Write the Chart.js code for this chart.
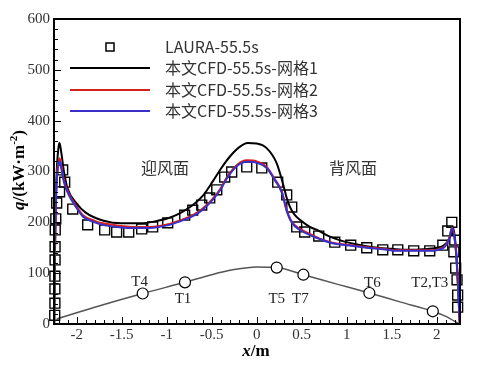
<!DOCTYPE html>
<html>
<head>
<meta charset="utf-8">
<script src="https://cdn.jsdelivr.net/npm/chart.js@4"></script>
<style>
  html, body { margin: 0; padding: 0; background: #fff; }
  #wrap { width: 486px; height: 367px; }
</style>
</head>
<body>
<div id="wrap"><canvas id="myChart" width="486" height="367"></canvas></div>
<script>
// LAURA reference points
const lauraX = [-2.244, -2.242, -2.242, -2.242, -2.240, -2.240, -2.238, -2.232, -2.222, -2.19, -2.156, -2.133, -2.044, -1.878, -1.689, -1.556, -1.422, -1.278, -1.156, -0.989, -0.8, -0.711, -0.611, -0.522, -0.444, -0.356, -0.278, -0.111, 0.056, 0.233, 0.333, 0.389, 0.444, 0.533, 0.689, 0.867, 1.044, 1.222, 1.4, 1.567, 1.744, 1.922, 2.067, 2.122, 2.167, 2.2, 2.19, 2.21, 2.225, 2.232, 2.232]
const lauraY = [17, 41, 69, 94, 126, 152, 185, 207, 238, 260, 303, 279, 226, 195, 185, 181, 181, 187, 191, 199, 214, 224, 234, 248, 264, 289, 299, 309, 307, 279, 254, 230, 191, 181, 173, 161, 155, 150, 146, 146, 144, 144, 155, 183, 200, 165, 142, 110, 87, 57, 33]

// 本文CFD 网格1
const cfd1X = [-2.25, -2.24, -2.225, -2.2, -2.19, -2.17, -2.14, -2.1, -2.0, -1.9, -1.7, -1.5, -1.3, -1.1, -0.97, -0.85, -0.71, -0.6, -0.49, -0.4, -0.3, -0.2, -0.1, 0, 0.11, 0.22, 0.29, 0.33, 0.37, 0.42, 0.48, 0.59, 0.67, 0.8, 0.92, 1.1, 1.29, 1.5, 1.67, 1.85, 2.0, 2.08, 2.13, 2.16, 2.18, 2.2, 2.22, 2.24, 2.255]
const cfd1Y = [0, 160, 285, 350, 356, 336, 298, 266, 237, 219, 203, 198, 198, 203, 209, 218, 234, 252, 280, 305, 329, 347, 356, 355, 346, 317, 277, 250, 230, 215, 205, 191, 185, 173, 165, 157, 151, 148, 146, 147, 150, 155, 165, 178, 190, 172, 130, 60, 0]

// 本文CFD 网格2
const cfd2X = [-2.25, -2.24, -2.225, -2.2, -2.19, -2.17, -2.14, -2.08, -2.0, -1.93, -1.8, -1.71, -1.5, -1.38, -1.19, -0.97, -0.85, -0.71, -0.6, -0.49, -0.4, -0.33, -0.22, -0.11, 0, 0.11, 0.2, 0.28, 0.33, 0.39, 0.48, 0.59, 0.7, 0.84, 1.0, 1.22, 1.4, 1.59, 1.8, 1.96, 2.05, 2.09, 2.14, 2.17, 2.2, 2.22, 2.24, 2.255]
const cfd2Y = [0, 160, 275, 322, 326, 310, 282, 254, 231, 214, 203, 198, 193, 191, 191, 197, 204, 214, 227, 246, 267, 289, 313, 322, 320, 309, 285, 260, 226, 201, 187, 177, 168, 160, 156, 151, 148, 145, 145, 145, 149, 153, 170, 190, 166, 127, 60, 4]

// 本文CFD 网格3
const cfd3X = [-2.25, -2.24, -2.225, -2.2, -2.19, -2.17, -2.14, -2.08, -2.0, -1.93, -1.8, -1.71, -1.5, -1.38, -1.19, -0.97, -0.85, -0.71, -0.6, -0.49, -0.4, -0.33, -0.22, -0.11, 0, 0.11, 0.2, 0.28, 0.33, 0.39, 0.48, 0.59, 0.7, 0.84, 1.0, 1.22, 1.4, 1.59, 1.8, 1.96, 2.05, 2.09, 2.14, 2.17, 2.2, 2.22, 2.24, 2.255]
const cfd3Y = [0, 155, 270, 316, 320, 305, 278, 251, 228, 211, 200, 195, 190, 189, 189, 195, 202, 212, 225, 244, 265, 287, 311, 319, 317, 307, 283, 258, 224, 199, 185, 175, 167, 159, 155, 150, 147, 144, 144, 144, 148, 152, 169, 189, 165, 126, 60, 5]

// body profile and thermocouple points
const profileX = [-2.222, -1.8, -1.267, -0.797, -0.5, -0.25, 0, 0.222, 0.518, 0.9, 1.251, 1.6, 1.956, 2.1, 2.25]
const profileY = [10, 33, 60, 82, 97, 107, 112, 111, 97, 78, 61, 43, 25, 15, 0]
const tNames = ['T4', 'T1', 'T5', 'T7', 'T6', 'T2,T3']
const tX = [-1.267, -0.797, 0.222, 0.518, 1.251, 1.956]
const tY = [60, 82, 111, 97, 61, 25]

const annoText = ['迎风面', '背风面']
const annoX = [-1.02, 1.07]
const annoY = [307, 307]

const legendNames = ['LAURA-55.5s', '本文CFD-55.5s-网格1', '本文CFD-55.5s-网格2', '本文CFD-55.5s-网格3']

const xTicks = [-2, -1.5, -1, -0.5, 0, 0.5, 1, 1.5, 2]
const yTicks = [0, 100, 200, 300, 400, 500, 600]

// style only
const tLabelOffset = [[-3, -11], [-2, 17], [0, 31], [-3, 24], [3, -10], [-3, -28]]
const serif = 'Liberation Serif'
const cjk = '"Noto Sans CJK SC", "Noto Sans", sans-serif'
const colors = ['#000000', '#000000', '#d42020', '#3a30c8']

const pts = (xs, ys) => xs.map((x, i) => ({ x: x, y: ys[i] }))

function drawRich(ctx, parts, cx, cy) {
  let w = 0
  parts.forEach(p => { ctx.font = p.f; w += ctx.measureText(p.t).width })
  let x = cx - w / 2
  ctx.textAlign = 'left'
  ctx.textBaseline = 'middle'
  parts.forEach(p => {
    ctx.font = p.f
    ctx.fillText(p.t, x, cy + (p.dy || 0))
    x += ctx.measureText(p.t).width
  })
}

const decor = {
  id: 'decor',
  afterDatasetsDraw(chart) {
    const ctx = chart.ctx
    const a = chart.chartArea
    const sx = chart.scales.x
    const sy = chart.scales.y
    ctx.save()

    // inward ticks
    ctx.strokeStyle = '#000'
    ctx.lineWidth = 1
    ctx.beginPath()
    for (let i = -22; i <= 22; i++) {
      const v = i / 10
      if (v < sx.min || v > sx.max) continue
      const px = Math.round(sx.getPixelForValue(v)) + 0.5
      const len = i % 5 === 0 ? 7 : 4
      ctx.moveTo(px, a.bottom)
      ctx.lineTo(px, a.bottom - len)
    }
    for (let v = 0; v <= 600; v += 20) {
      const py = Math.round(sy.getPixelForValue(v)) + 0.5
      const len = v % 100 === 0 ? 7 : 4
      ctx.moveTo(a.left, py)
      ctx.lineTo(a.left + len, py)
    }
    ctx.stroke()

    // frame
    ctx.lineWidth = 2
    ctx.strokeRect(a.left, a.top, a.right - a.left, a.bottom - a.top)

    // thermocouple labels
    ctx.fillStyle = '#222'
    ctx.font = '15px ' + serif
    ctx.textAlign = 'center'
    ctx.textBaseline = 'middle'
    tNames.forEach((n, i) => {
      const px = sx.getPixelForValue(tX[i]) + tLabelOffset[i][0]
      const py = sy.getPixelForValue(tY[i]) + tLabelOffset[i][1]
      ctx.fillText(n, px, py)
    })

    // windward / leeward
    ctx.fillStyle = '#333'
    ctx.font = '16px ' + cjk
    annoText.forEach((t, i) => {
      ctx.fillText(t, sx.getPixelForValue(annoX[i]), sy.getPixelForValue(annoY[i]))
    })

    // legend
    const rows = [47, 68, 90, 111]
    ctx.strokeStyle = '#000'
    ctx.lineWidth = 1.5
    ctx.strokeRect(106, rows[0] - 4, 8, 8)
    for (let i = 1; i < 4; i++) {
      ctx.strokeStyle = colors[i]
      ctx.lineWidth = 2
      ctx.beginPath()
      ctx.moveTo(70, rows[i])
      ctx.lineTo(150, rows[i])
      ctx.stroke()
    }
    ctx.fillStyle = '#333'
    ctx.font = '16px ' + cjk
    ctx.textAlign = 'left'
    legendNames.forEach((n, i) => ctx.fillText(n, 165, rows[i]))

    // axis titles
    ctx.fillStyle = '#000'
    drawRich(ctx, [
      { t: 'x', f: 'italic bold 17px ' + serif },
      { t: '/m', f: 'bold 17px ' + serif }
    ], 256, 352)
    ctx.translate(20, 170)
    ctx.rotate(-Math.PI / 2)
    drawRich(ctx, [
      { t: 'q', f: 'italic bold 17px ' + serif },
      { t: '/(kW·m', f: 'bold 17px ' + serif },
      { t: '-2', f: 'bold 11px ' + serif, dy: -6 },
      { t: ')', f: 'bold 17px ' + serif }
    ], 0, 0)
    ctx.restore()
  }
}

const lineDs = (label, xs, ys, color, order) => ({
  label: label,
  data: pts(xs, ys),
  showLine: true,
  borderColor: color,
  borderWidth: 2,
  pointRadius: 0,
  cubicInterpolationMode: 'monotone',
  clip: false,
  order: order
})

new Chart(document.getElementById('myChart'), {
  type: 'scatter',
  data: {
    datasets: [
      {
        label: legendNames[0],
        data: pts(lauraX, lauraY),
        pointStyle: 'rect',
        pointRadius: 7,
        borderColor: '#000',
        backgroundColor: 'rgba(0,0,0,0)',
        borderWidth: 1.4,
        clip: false,
        order: 4
      },
      lineDs(legendNames[1], cfd1X, cfd1Y, colors[1], 3),
      lineDs(legendNames[2], cfd2X, cfd2Y, colors[2], 2),
      lineDs(legendNames[3], cfd3X, cfd3Y, colors[3], 1),
      {
        label: 'profile',
        data: pts(profileX, profileY),
        showLine: true,
        borderColor: '#555',
        borderWidth: 1.5,
        pointRadius: 0,
        cubicInterpolationMode: 'monotone',
        clip: false,
        order: 5
      },
      {
        label: 'T',
        data: pts(tX, tY),
        pointStyle: 'circle',
        pointRadius: 5.5,
        borderColor: '#000',
        backgroundColor: '#fff',
        borderWidth: 1.2,
        clip: false,
        order: 0
      }
    ]
  },
  options: {
    responsive: false,
    animation: false,
    events: [],
    layout: { padding: { left: 0, right: 26, top: 19, bottom: 0 } },
    plugins: { legend: { display: false }, tooltip: { enabled: false } },
    scales: {
      x: {
        type: 'linear',
        min: -2.252,
        max: 2.258,
        afterFit(s) { s.height = 43 },
        afterBuildTicks(s) { s.ticks = xTicks.map(v => ({ value: v })) },
        grid: { display: false, drawTicks: false },
        border: { display: false },
        ticks: {
          padding: 2,
          maxRotation: 0,
          autoSkip: false,
          color: '#333',
          font: { family: serif, size: 15 },
          callback: v => String(Math.round(v * 10) / 10)
        }
      },
      y: {
        type: 'linear',
        min: 0,
        max: 600,
        afterFit(s) { s.width = 54 },
        afterBuildTicks(s) { s.ticks = yTicks.map(v => ({ value: v })) },
        grid: { display: false, drawTicks: false },
        border: { display: false },
        ticks: {
          padding: 4,
          color: '#333',
          font: { family: serif, size: 15 },
          callback: v => String(v)
        }
      }
    }
  },
  plugins: [decor]
})
</script>
</body>
</html>
